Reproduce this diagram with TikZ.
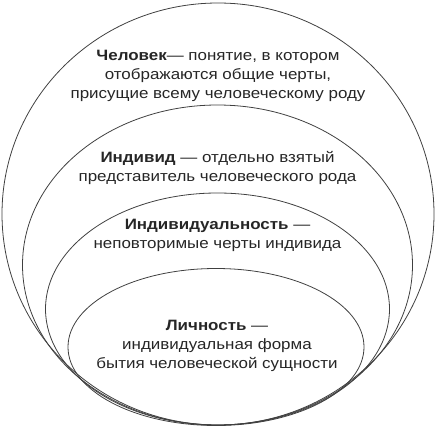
\documentclass[tikz,border=0pt]{standalone}
\usepackage{fontspec}
\setmainfont[FakeStretch=1.13]{Liberation Sans}
\tikzset{
  ring/.style={line width=0.8pt, draw=black!75},
  note/.style={align=center, text=black!85, inner sep=0pt, font=\fontsize{15}{19}\selectfont}
}
\begin{document}
\begin{tikzpicture}[x = 1pt, y = -1pt]
  \useasboundingbox (0, 0) rectangle (439, 436);
  \draw[ring] (218, 214) ellipse [x radius=216pt, y radius=211pt];
  \draw[ring] (217.5, 265) ellipse [x radius=195pt, y radius=160pt];
  \draw[ring] (217.5, 309) ellipse [x radius=172pt, y radius=116pt];
  \draw[ring] (216, 347) ellipse [x radius=148pt, y radius=78.5pt];
  \node[note] (chelovek) at (218, 76) {\textbf{Человек}— понятие, в котором\\отображаются общие черты,\\присущие всему человеческому роду};
  \node[note] (individ) at (217.5, 168) {\textbf{Индивид} — отдельно взятый\\представитель человеческого рода};
  \node[note] (individualnost) at (217.5, 235.5) {\textbf{Индивидуальность} —\\неповторимые черты индивида};
  \node[note] (lichnost) at (217, 345.5) {\textbf{Личность} —\\индивидуальная форма\\бытия человеческой сущности};
\end{tikzpicture}
\end{document}
